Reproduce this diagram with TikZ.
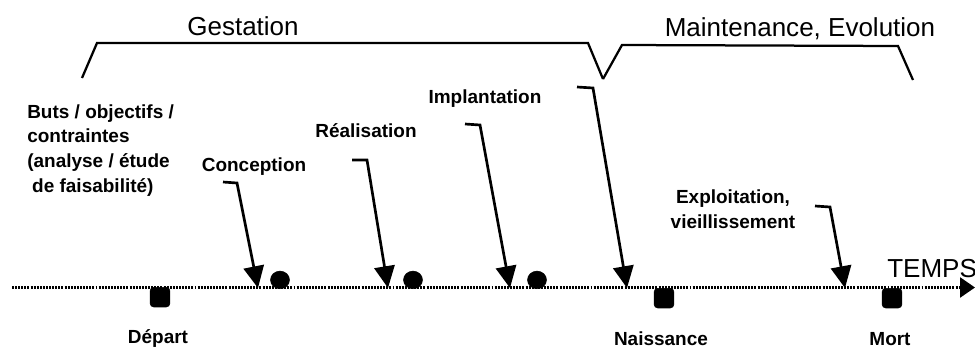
\documentclass[tikz,border=0pt]{standalone}
\usepackage{fontspec}
\setmainfont{Liberation Sans}
\usetikzlibrary{arrows.meta,shapes.geometric}
\tikzset{lbl/.style={font=\bfseries\fontsize{13.5}{17.6}\selectfont, inner sep=0pt},
  big/.style={font=\fontsize{18.5}{22}\selectfont, inner sep=0pt},
  jalon/.style={draw=black, fill=black, rectangle, rounded corners=2.5pt,
    minimum size=14pt, inner sep=0pt, anchor=north},
  pastille/.style={draw=black, fill=black, ellipse, minimum width=13.5pt,
    minimum height=12.5pt, inner sep=0pt, anchor=south},
  fleche/.style={-{Triangle[length=15.5pt,width=14.5pt]}, line width=1.9pt},
  accolade/.style={line width=1.6pt, line join=miter},
  temps/.style={line width=1.9pt, dash pattern=on 1.4pt off 0.8pt,
    -{Triangle[length=10.5pt,width=14pt]}}
}

\begin{document}
\begin{tikzpicture}[x=0.025cm, y=-0.025cm]
  \useasboundingbox (0,0) rectangle (975,349);
  % phases
  \draw (243,35) node[big, anchor=base] (gest) {Gestation};
  \draw (800,36) node[big, anchor=base] (maint) {Maintenance, Evolution};
  \draw[accolade] (82,78) -- (97,43) -- (588,43) -- (603,79);
  \draw[accolade] (603,79) -- (622,45) -- (898,46) -- (913,80);
  % axe du temps
  \coordinate (t0) at (12,287.5);
  \coordinate (t1) at (975,287.5);
  \draw[temps] (t0) -- (t1);
  \draw (887,277) node[big, anchor=base west] (tps) {TEMPS};
  % jalons
  \draw (160,287) node[jalon] (dep) {};
  \draw (664,288) node[jalon] (nai) {};
  \draw (892,288) node[jalon] (mort) {};
  \draw (158,343) node[lbl, anchor=base] (ldep) {Départ};
  \draw (661,345) node[lbl, anchor=base] (lnai) {Naissance};
  \draw (890,345) node[lbl, anchor=base] (lmort) {Mort};
  % etapes
  \draw (280,289) node[pastille] (p1) {};
  \draw (413,289) node[pastille] (p2) {};
  \draw (537,289) node[pastille] (p3) {};
  \draw (27,104) node[lbl, anchor=north west, align=left] (buts)
    {Buts / objectifs /\\contraintes\\(analyse / étude\\\hspace{3.5pt}de faisabilité)};
  \draw (254,171) node[lbl, anchor=base] (conc) {Conception};
  \draw (366,137) node[lbl, anchor=base] (real) {Réalisation};
  \draw (485,103) node[lbl, anchor=base] (impl) {Implantation};
  \draw (733,228) node[lbl, anchor=base, align=center] (expl)
    {Exploitation,\\vieillissement};
  % fleches
  \coordinate (c1) at (223,182); \coordinate (c2) at (237,183); \coordinate (c3) at (258,288);
  \coordinate (r1) at (352,160); \coordinate (r2) at (367,160); \coordinate (r3) at (388,288);
  \coordinate (i1) at (465,124); \coordinate (i2) at (480,125); \coordinate (i3) at (510,288);
  \coordinate (n1) at (577,87); \coordinate (n2) at (593,88); \coordinate (n3) at (627,288);
  \coordinate (e1) at (815,206); \coordinate (e2) at (830,207); \coordinate (e3) at (845,288);
  \draw[fleche] (c1) -- (c2) -- (c3);
  \draw[fleche] (r1) -- (r2) -- (r3);
  \draw[fleche] (i1) -- (i2) -- (i3);
  \draw[fleche] (n1) -- (n2) -- (n3);
  \draw[fleche] (e1) -- (e2) -- (e3);
\end{tikzpicture}
\end{document}
